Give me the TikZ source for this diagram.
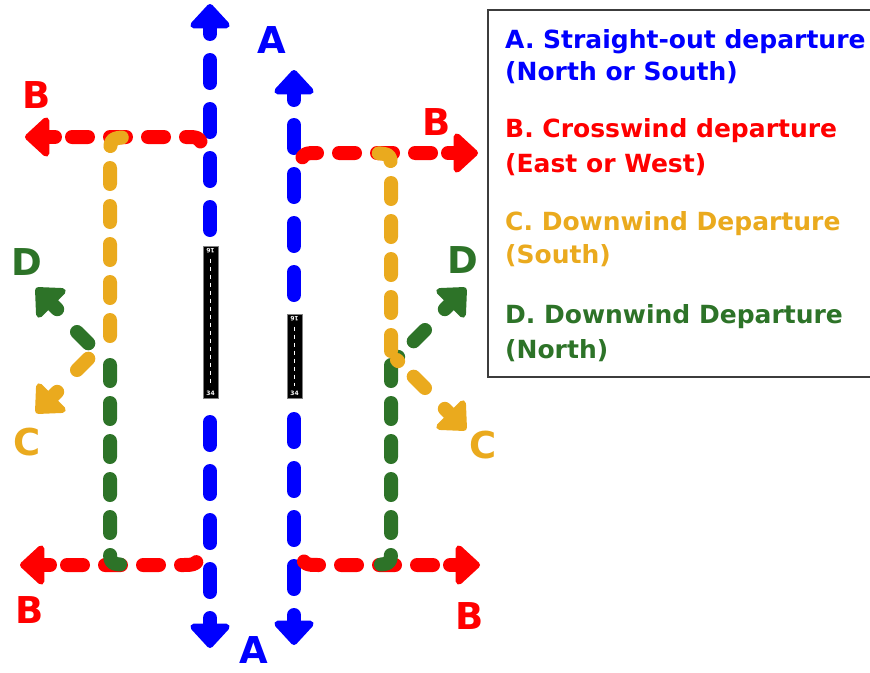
\documentclass[tikz,border=0pt]{standalone}
\usepackage{fontspec}
\setmainfont{DejaVu Sans}
\usetikzlibrary{arrows.meta}
\definecolor{cA}{RGB}{0,0,255}
\definecolor{cB}{RGB}{255,0,0}
\definecolor{cC}{RGB}{234,170,30}
\definecolor{cD}{RGB}{45,115,40}
\definecolor{frame}{RGB}{60,60,60}
\begin{document}
\begin{tikzpicture}[x=1pt,y=-1pt,
  route/.style={line width=14pt, line cap=round, line join=round},
  dashlong/.style={route, dash pattern=on 23pt off 26pt},
  dashshort/.style={route, dash pattern=on 16pt off 22pt},
  fat/.style={route, -{Triangle[width=46pt,length=26pt,round,line width=14pt]}},
  big/.style={font=\fontsize{37}{37}\selectfont\bfseries, inner sep=0pt},
  legend/.style={font=\fontsize{25}{25}\selectfont\bfseries, inner sep=0pt, anchor=base west},
  runway/.style={fill=black, draw=gray, line width=1pt, inner sep=0pt, minimum width=15pt},
  rwnum/.style={white, font=\fontsize{6}{6}\selectfont\bfseries, inner sep=0pt}]
\useasboundingbox (0,0) rectangle (870,672);
\clip (0,0) rectangle (870,672);

% ---------- coordinates ----------
% blue (A)
\coordinate (aLTtip) at (210,4);   \coordinate (aLTs) at (210,34);
\coordinate (aLTd) at (210,60);    \coordinate (aLTe) at (210,240);
\coordinate (aRTtip) at (294,70);  \coordinate (aRTs) at (294,100);
\coordinate (aRTd) at (294,125);   \coordinate (aRTe) at (294,310);
\coordinate (aLBtip) at (210,648); \coordinate (aLBs) at (210,618);
\coordinate (aLBd) at (210,592);   \coordinate (aLBe) at (210,405);
\coordinate (aRBtip) at (294,645); \coordinate (aRBs) at (294,615);
\coordinate (aRBd) at (294,589);   \coordinate (aRBe) at (294,405);
% red (B)
\coordinate (bTLtip) at (25,137);  \coordinate (bTLs) at (55,137);
\coordinate (bTLd) at (72,137);    \coordinate (bTLk) at (186,137);
\coordinate (bTLc) at (199,137);   \coordinate (bTLe) at (205,151);
\coordinate (bTRtip) at (478,153); \coordinate (bTRs) at (448,153);
\coordinate (bTRd) at (431,153);   \coordinate (bTRk) at (318,153);
\coordinate (bTRc) at (304,153);   \coordinate (bTRe) at (298,166);
\coordinate (bBLtip) at (20,565);  \coordinate (bBLs) at (50,565);
\coordinate (bBLd) at (67,565);    \coordinate (bBLk) at (181,565);
\coordinate (bBLc) at (196,565);   \coordinate (bBLe) at (203,551);
\coordinate (bBRtip) at (480,565); \coordinate (bBRs) at (450,565);
\coordinate (bBRd) at (433,565);   \coordinate (bBRk) at (319,565);
\coordinate (bBRc) at (305,565);   \coordinate (bBRe) at (298,551);
% yellow (C)
\coordinate (cLv) at (110,336);   \coordinate (cLk) at (110,158);
\coordinate (cLc) at (110,138);   \coordinate (cLe) at (130,137);
\coordinate (cLd1) at (77,370);   \coordinate (cLd2) at (103,344);
\coordinate (cLtip) at (36,413);  \coordinate (cLs) at (57.2,391.8);
\coordinate (cRv) at (391,351);   \coordinate (cRk) at (391,172);
\coordinate (cRc) at (391,154);   \coordinate (cRe) at (374,153);
\coordinate (cRd1) at (425,388);  \coordinate (cRd2) at (397,360);
\coordinate (cRtip) at (466,430); \coordinate (cRs) at (444.8,408.8);
% green (D)
\coordinate (dLv) at (110,365);   \coordinate (dLk) at (110,548);
\coordinate (dLc) at (110,564);   \coordinate (dLe) at (127,565);
\coordinate (dLd1) at (77,332);   \coordinate (dLd2) at (103,358);
\coordinate (dLtip) at (36,288);  \coordinate (dLs) at (57.2,309.2);
\coordinate (dRv) at (391,365);   \coordinate (dRk) at (391,548);
\coordinate (dRc) at (391,564);   \coordinate (dRe) at (374,565);
\coordinate (dRd1) at (425,330);  \coordinate (dRd2) at (397,358);
\coordinate (dRtip) at (466,288); \coordinate (dRs) at (444.8,309.2);

% ---------- A: straight-out ----------
\begin{scope}[cA]
\draw[dashlong] (aLTd) -- (aLTe);
\draw[dashlong] (aRTd) -- (aRTe);
\draw[dashlong] (aLBd) -- (aLBe);
\draw[dashlong] (aRBd) -- (aRBe);
\draw[fat] (aLTs) -- (aLTtip);
\draw[fat] (aRTs) -- (aRTtip);
\draw[fat] (aLBs) -- (aLBtip);
\draw[fat] (aRBs) -- (aRBtip);
\end{scope}

% ---------- B: crosswind ----------
\begin{scope}[cB]
\draw[dashshort] (bTLd) -- (bTLk) .. controls (bTLc) .. (bTLe);
\draw[dashshort] (bTRd) -- (bTRk) .. controls (bTRc) .. (bTRe);
\draw[dashshort] (bBLd) -- (bBLk) .. controls (bBLc) .. (bBLe);
\draw[dashshort] (bBRd) -- (bBRk) .. controls (bBRc) .. (bBRe);
\draw[fat] (bTLs) -- (bTLtip);
\draw[fat] (bTRs) -- (bTRtip);
\draw[fat] (bBLs) -- (bBLtip);
\draw[fat] (bBRs) -- (bBRtip);
\end{scope}

% ---------- D: downwind north ----------
\begin{scope}[cD]
\draw[dashshort] (dLv) -- (dLk) .. controls (dLc) .. (dLe);
\draw[dashshort] (dRv) -- (dRk) .. controls (dRc) .. (dRe);
\draw[dashshort] (dLd1) -- (dLd2);
\draw[dashshort] (dRd1) -- (dRd2);
\draw[fat] (dLs) -- (dLtip);
\draw[fat] (dRs) -- (dRtip);
\end{scope}

% ---------- C: downwind south ----------
\begin{scope}[cC]
\draw[dashshort] (cLv) -- (cLk) .. controls (cLc) .. (cLe);
\draw[dashshort] (cRv) -- (cRk) .. controls (cRc) .. (cRe);
\draw[dashshort] (cLd1) -- (cLd2);
\draw[dashshort] (cRd1) -- (cRd2);
\draw[fat] (cLs) -- (cLtip);
\draw[fat] (cRs) -- (cRtip);
\end{scope}

% ---------- runways ----------
\node[runway, minimum height=152pt] (rwL) at (210.5,322) {};
\node[runway, minimum height=84pt] (rwR) at (294.5,356) {};
\foreach \r in {rwL,rwR}{
  \draw[white, line width=1.4pt, dash pattern=on 4pt off 4pt]
    ([yshift=-13pt]\r.north) -- ([yshift=13pt]\r.south);
  \node[rwnum, rotate=180] at ([yshift=-5pt]\r.north) {16};
  \node[rwnum] at ([yshift=5pt]\r.south) {34};
}

% ---------- letters ----------
\node[big, cA] (lA1) at (272,40) {A};
\node[big, cA] (lA2) at (254,650) {A};
\node[big, cB] (lB1) at (37,95) {B};
\node[big, cB] (lB2) at (437,122) {B};
\node[big, cB] (lB3) at (30,610) {B};
\node[big, cB] (lB4) at (470,616) {B};
\node[big, cD] (lD1) at (27,262) {D};
\node[big, cC] (lC1) at (27,442) {C};
\node[big, cD] (lD2) at (463,260) {D};
\node[big, cC] (lC2) at (483,445) {C};

% ---------- legend ----------
\draw[frame, line width=2pt] (488,10) rectangle (886,377);
\node[legend, cA] (g1) at (505,48) {A. Straight-out departure};
\node[legend, cA] (g2) at (505,80) {(North or South)};
\node[legend, cB] (g3) at (505,137) {B. Crosswind departure};
\node[legend, cB] (g4) at (505,172) {(East or West)};
\node[legend, cC] (g5) at (505,230) {C. Downwind Departure};
\node[legend, cC] (g6) at (505,263) {(South)};
\node[legend, cD] (g7) at (505,323) {D. Downwind Departure};
\node[legend, cD] (g8) at (505,358) {(North)};
\end{tikzpicture}
\end{document}
